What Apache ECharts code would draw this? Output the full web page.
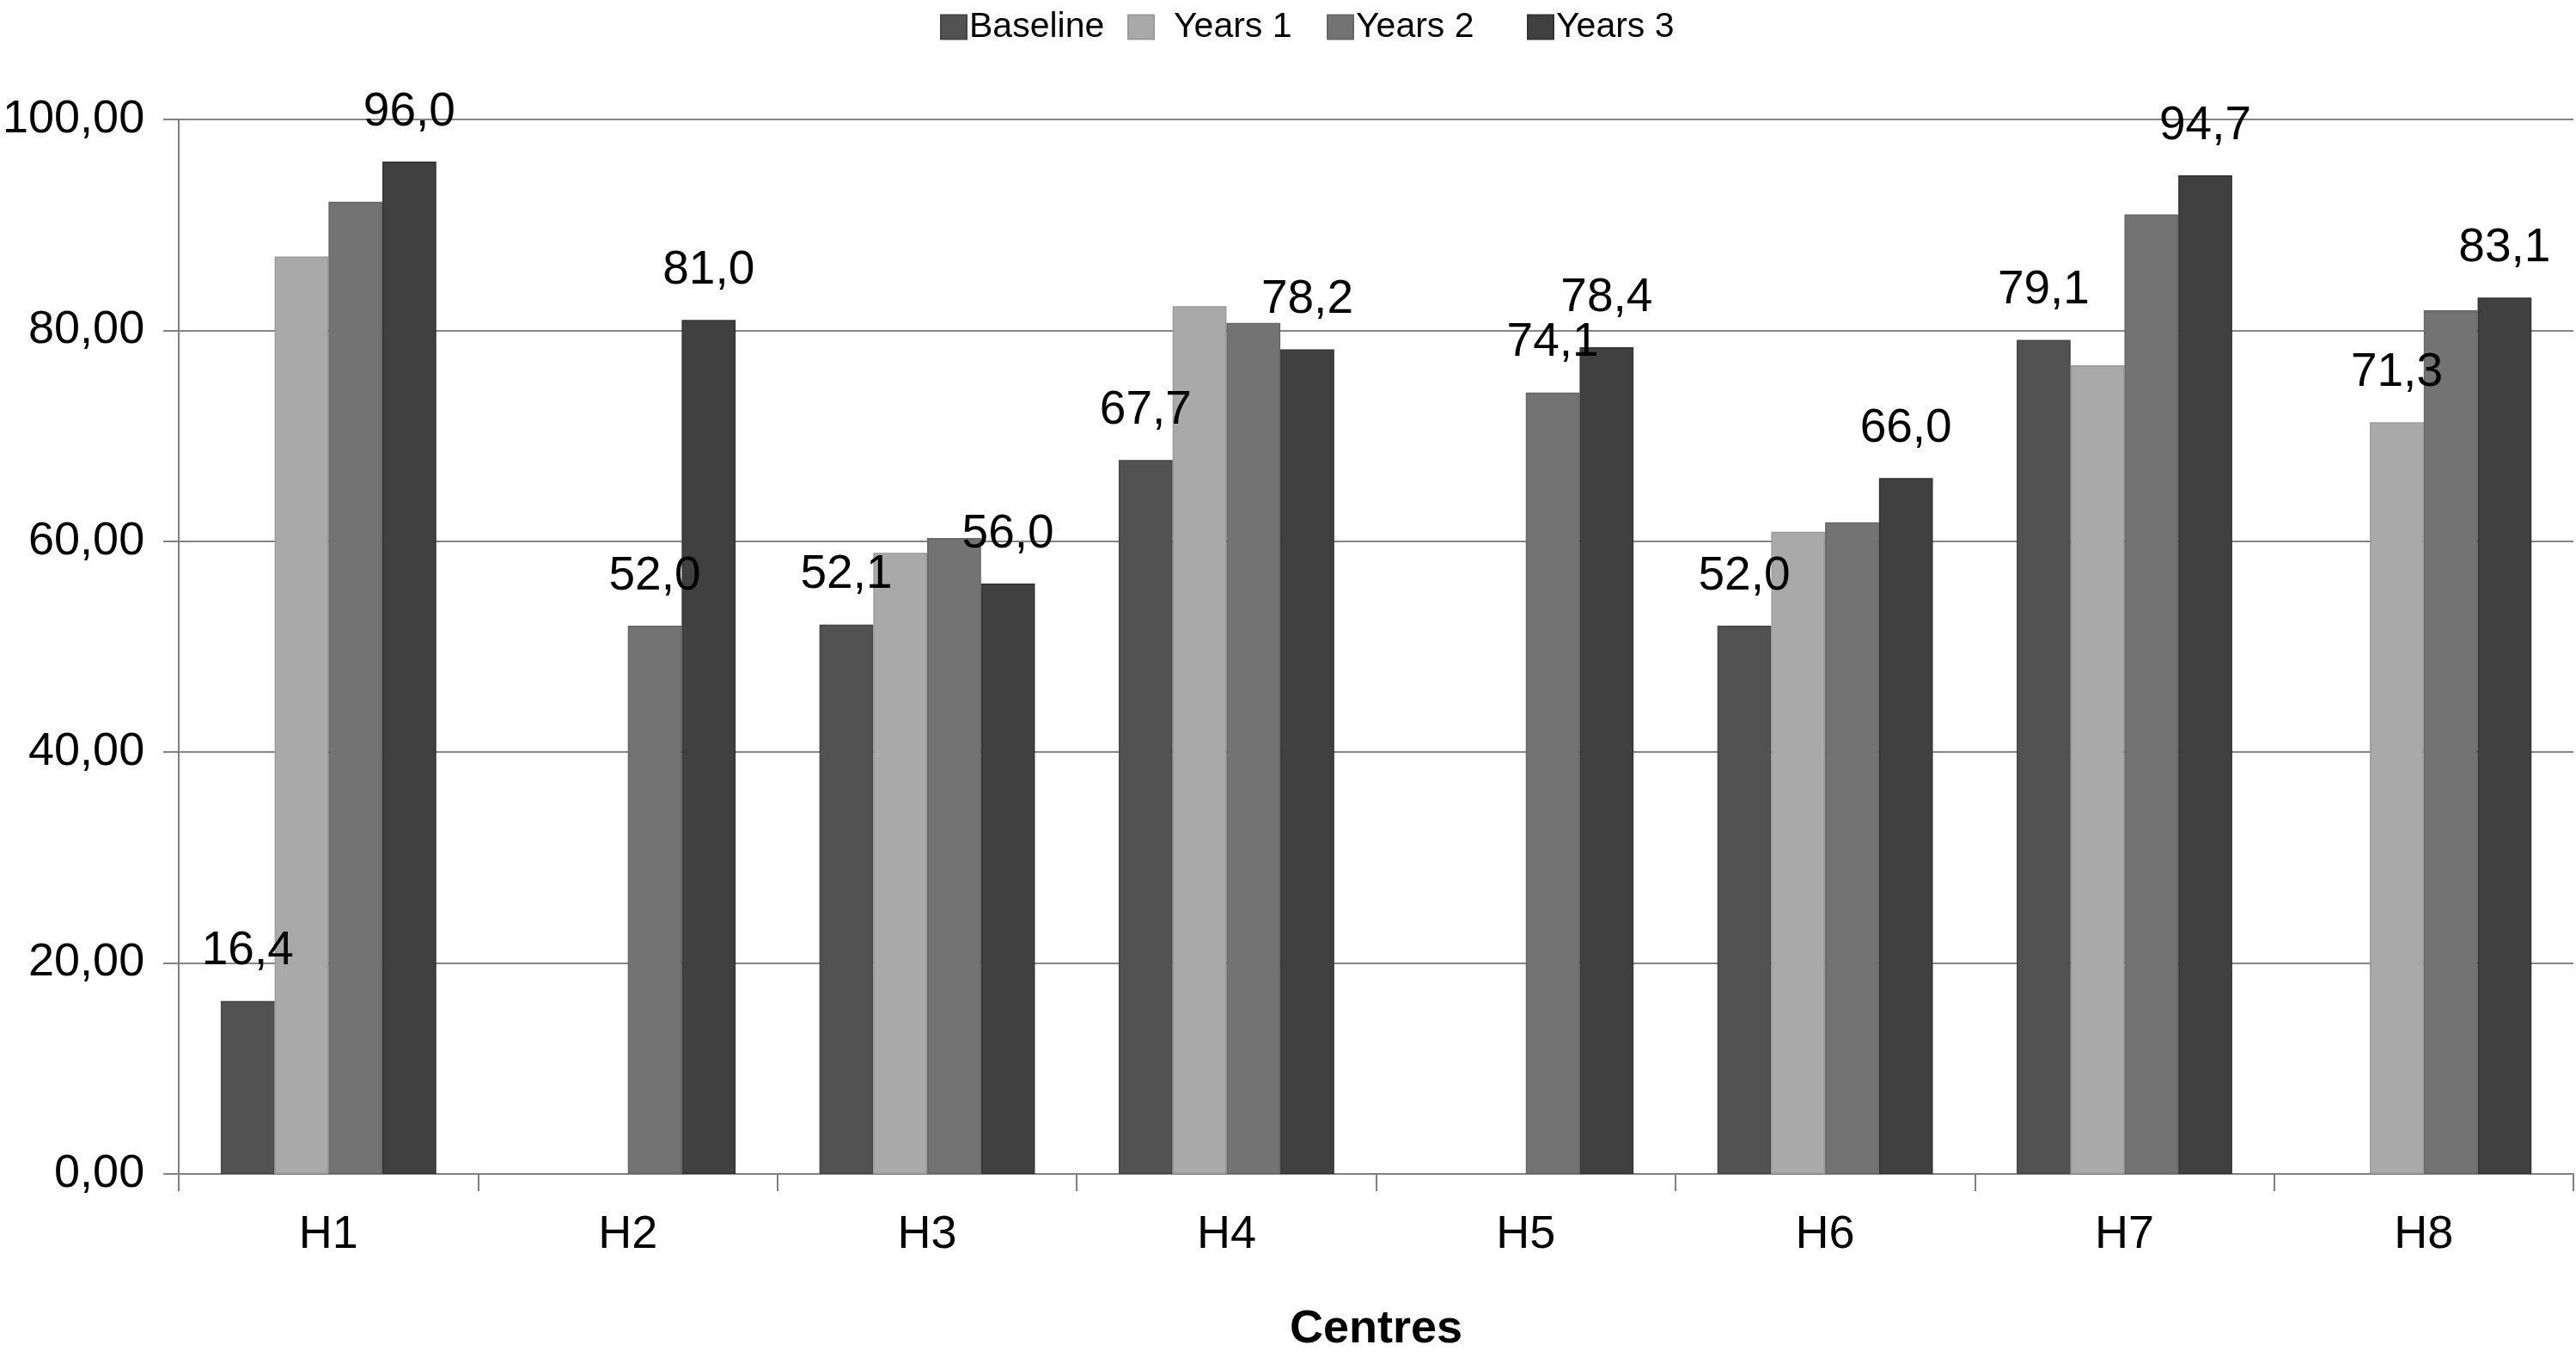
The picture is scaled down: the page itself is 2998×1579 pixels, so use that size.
<!DOCTYPE html>
<html>
<head>
<meta charset="utf-8">
<script src="https://cdn.jsdelivr.net/npm/echarts@6/dist/echarts.min.js"></script>
<style>
html,body{margin:0;padding:0;background:#fff;}
#c{width:2998px;height:1579px;}
</style>
</head>
<body>
<div id="c"></div>
<script>
const categories = ['H1','H2','H3','H4','H5','H6','H7','H8'];
const seriesNames = ['Baseline','Years 1','Years 2','Years 3'];
const baseline = [16.4, null, 52.1, 67.7, null, 52.0, 79.1, null];
const years1   = [87.0, null, 58.9, 82.3, null, 60.9, 76.7, 71.3];
const years2   = [92.2, 52.0, 60.3, 80.7, 74.1, 61.8, 91.0, 81.9];
const years3   = [96.0, 81.0, 56.0, 78.2, 78.4, 66.0, 94.7, 83.1];
const yTicks = [0, 20, 40, 60, 80, 100];

const allSeries = [baseline, years1, years2, years3];
const colors = ['#525252', '#a9a9a9', '#737373', '#404040'];
const borders = ['#454545', '#9a9a9a', '#666666', '#333333'];
const FONT = '"Liberation Sans", Arial, Helvetica, sans-serif';
const legendLeft = [1089, 1307, 1539, 1772];
const legendPadLeft = [0, 20, 0, 0];

function firstIndex(ci) {
  for (let s = 0; s < allSeries.length; s++) if (allSeries[s][ci] != null) return s;
  return -1;
}

const series = allSeries.map((arr, si) => ({
  name: seriesNames[si],
  type: 'bar',
  barWidth: '18%',
  barGap: '0%',
  itemStyle: { color: colors[si], borderColor: borders[si], borderWidth: 1.5 },
  data: arr.map((v, ci) => ({
    value: v,
    label: { show: v != null && (si === allSeries.length - 1 || firstIndex(ci) === si) }
  })),
  label: {
    position: 'top',
    distance: 30,
    color: '#000',
    fontFamily: FONT,
    fontSize: 55,
    formatter: p => p.value.toFixed(1).replace('.', ',')
  }
}));

const legends = seriesNames.map((n, i) => ({
  data: [n],
  left: legendLeft[i],
  top: 6,
  icon: 'rect',
  itemWidth: 30,
  itemHeight: 28,
  textStyle: { fontFamily: FONT, fontSize: 41, color: '#000', padding: [0, 0, 0, legendPadLeft[i] - 2] }
}));

const chart = echarts.init(document.getElementById('c'), null, { renderer: 'canvas' });
chart.setOption({
  animation: false,
  backgroundColor: '#fff',
  legend: legends,
  grid: { left: 208, right: 3, top: 139, bottom: 213, containLabel: false },
  xAxis: {
    type: 'category',
    data: categories,
    name: 'Centres',
    nameLocation: 'middle',
    nameGap: 154,
    nameTextStyle: { fontFamily: FONT, fontSize: 54, fontWeight: 'bold', color: '#000' },
    axisLine: { lineStyle: { color: '#808080', width: 2 } },
    axisTick: { show: true, length: 20, lineStyle: { color: '#808080', width: 2 } },
    axisLabel: { margin: 44, fontFamily: FONT, fontSize: 54, color: '#000' }
  },
  yAxis: {
    type: 'value',
    min: yTicks[0],
    max: yTicks[yTicks.length - 1],
    interval: 20,
    axisLine: { show: true, lineStyle: { color: '#808080', width: 2 } },
    axisTick: { show: true, length: 18, lineStyle: { color: '#808080', width: 2 } },
    splitLine: { show: true, lineStyle: { color: '#858585', width: 2 } },
    axisLabel: {
      margin: 40,
      fontFamily: FONT,
      fontSize: 54,
      color: '#000',
      formatter: v => v.toFixed(2).replace('.', ',')
    }
  },
  series: series
});
</script>
</body>
</html>
